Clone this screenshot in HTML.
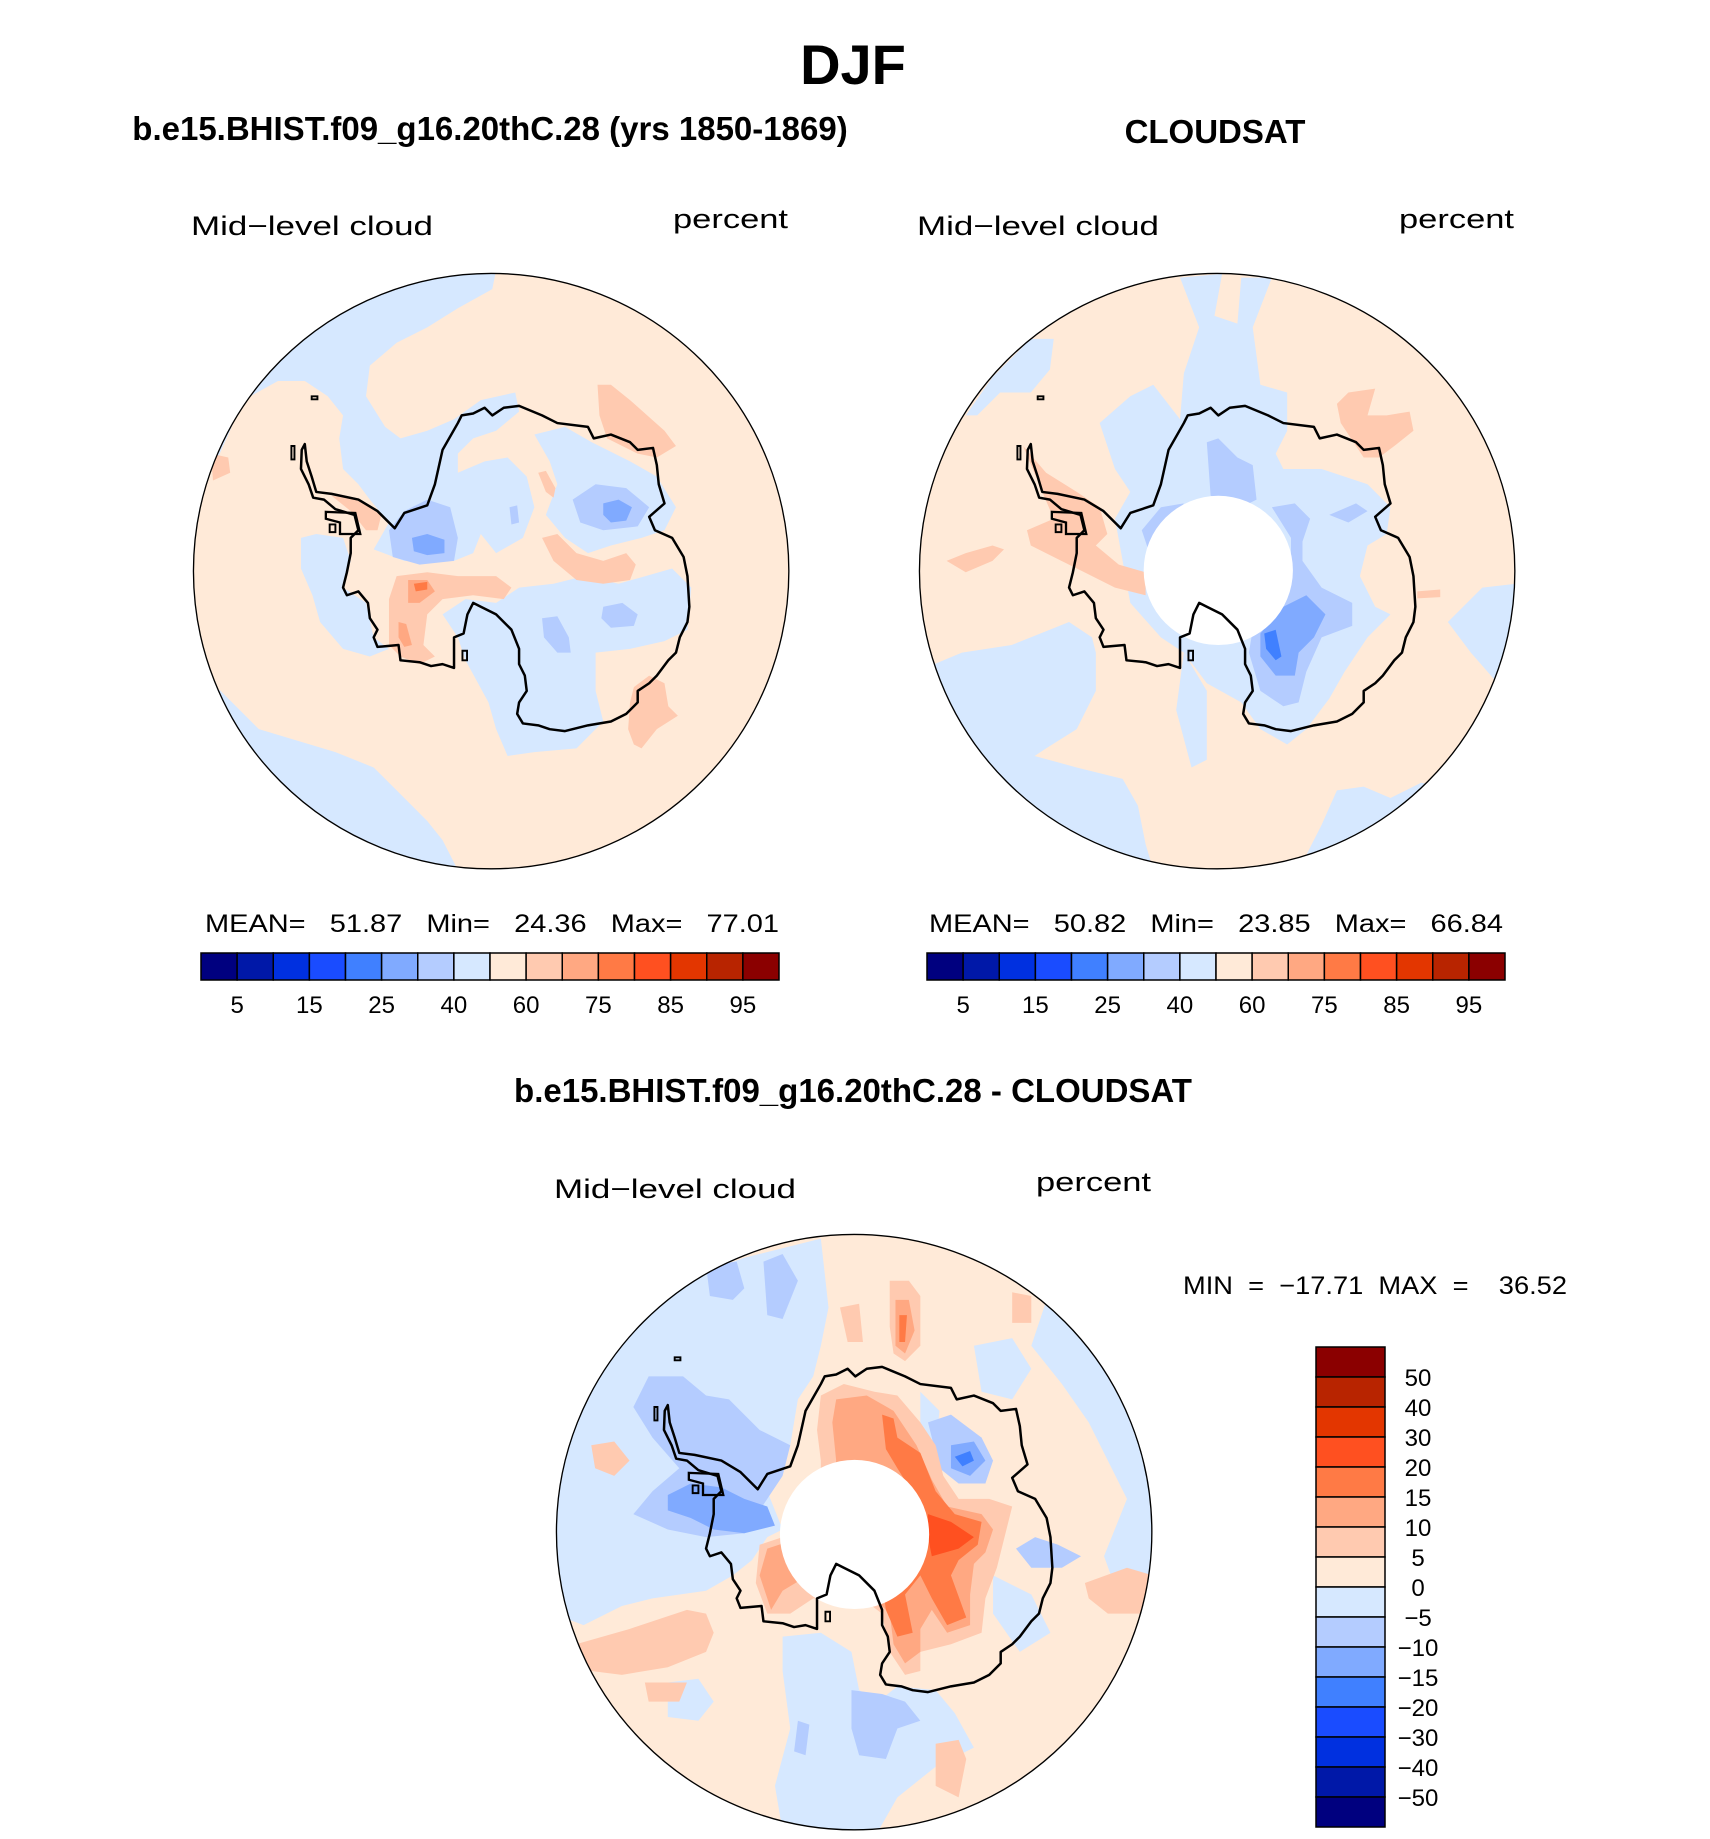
<!DOCTYPE html>
<html><head><meta charset="utf-8">
<style>
html,body{margin:0;padding:0;background:#fff;}
svg{display:block;}
.t{font-family:"Liberation Sans",sans-serif;}
</style></head>
<body>
<svg id="fig" width="1710" height="1839" viewBox="0 0 1710 1839" xmlns="http://www.w3.org/2000/svg">
<defs>
  <clipPath id="disc"><circle cx="787" cy="787" r="778"/></clipPath>
  <g id="coast">
    <path d="M300,455 L305,500 L318,540 L330,580 L370,585 L440,600 L490,630 L535,675 L560,635 L620,615 L640,560 L660,470 L700,400 L710,380 L740,375 L770,360 L790,380 L820,360 L860,355 L920,380 L960,400 L1040,410 L1055,440 L1100,430 L1150,450 L1170,470 L1210,465 L1220,510 L1225,560 L1240,610 L1200,645 L1215,680 L1260,700 L1290,750 L1300,800 L1305,880 L1300,920 L1280,960 L1270,1000 L1250,1020 L1220,1060 L1200,1080 L1170,1100 L1170,1130 L1140,1160 L1100,1180 L1040,1190 L980,1205 L940,1200 L910,1190 L870,1185 L855,1160 L860,1130 L880,1100 L875,1060 L860,1030 L860,990 L840,940 L800,900 L760,880 L740,870 L725,900 L715,950 L690,960 L690,1040 L660,1030 L630,1035 L600,1025 L550,1020 L545,980 L490,985 L480,960 L490,940 L470,910 L465,870 L440,840 L410,850 L400,830 L410,790 L420,740 L420,700 L440,680 L430,640 L380,625 L350,600 L322,595 L310,560 L290,520 L292,470 Z" fill="none" stroke="#000" stroke-width="6.5" stroke-linejoin="round"/>
    <path d="M355,632 L432,635 L445,690 L392,690 L392,660 L355,650 Z" fill="none" stroke="#000" stroke-width="6"/>
    <path d="M365,665 l15,0 l0,20 l-15,0z M265,460 l8,0 l0,35 l-8,0z M318,330 l15,0 l0,8 l-15,0z M712,995 l12,0 l0,25 l-12,0z" fill="none" stroke="#000" stroke-width="5"/>
  </g>
</defs>

<text class="t" x="853" y="84" font-size="56" font-weight="bold" text-anchor="middle">DJF</text>
<text class="t" x="490" y="140" font-size="33" font-weight="bold" text-anchor="middle">b.e15.BHIST.f09_g16.20thC.28 (yrs 1850-1869)</text>
<text class="t" x="1215" y="143" font-size="33" font-weight="bold" text-anchor="middle">CLOUDSAT</text>
<text class="t" x="853" y="1102" font-size="33" font-weight="bold" text-anchor="middle">b.e15.BHIST.f09_g16.20thC.28 - CLOUDSAT</text>

<text class="t" x="191" y="235" font-size="27" textLength="242" lengthAdjust="spacingAndGlyphs">Mid−level cloud</text>
<text class="t" x="673" y="228" font-size="27" textLength="115" lengthAdjust="spacingAndGlyphs">percent</text>
<text class="t" x="917" y="235" font-size="27" textLength="242" lengthAdjust="spacingAndGlyphs">Mid−level cloud</text>
<text class="t" x="1399" y="228" font-size="27" textLength="115" lengthAdjust="spacingAndGlyphs">percent</text>
<text class="t" x="554" y="1198" font-size="27" textLength="242" lengthAdjust="spacingAndGlyphs">Mid−level cloud</text>
<text class="t" x="1036" y="1191" font-size="27" textLength="115" lengthAdjust="spacingAndGlyphs">percent</text>

<!-- LEFT MAP -->
<g transform="translate(190,270) scale(0.38265)">
 <g clip-path="url(#disc)">
  <rect x="0" y="0" width="1568" height="1568" fill="#ffead8"/>
  <g fill="#d6e8ff">
   <polygon points="0,0 800,0 790,50 700,100 620,150 540,190 470,250 460,330 510,410 550,440 620,420 690,390 760,340 850,320 860,370 800,420 740,440 700,480 700,530 770,500 830,490 880,540 900,620 870,700 800,740 760,690 740,740 690,760 560,760 480,730 520,660 470,600 440,560 400,520 390,440 400,380 360,330 300,290 230,290 140,340 60,520 0,520"/>
   <polygon points="290,700 330,690 400,700 420,760 400,830 460,870 480,960 520,990 470,1010 400,990 340,920 320,850 290,780"/>
   <polygon points="900,430 980,410 1050,450 1150,500 1220,540 1270,620 1240,680 1180,700 1100,720 1040,740 980,700 930,640 960,560 940,500"/>
   <polygon points="860,830 950,820 1030,800 1120,820 1260,780 1310,830 1300,940 1240,970 1150,990 1060,1000 1060,1100 1080,1180 1010,1250 900,1260 830,1270 800,1200 780,1130 720,1020 700,960 660,900 720,860 800,870"/>
   <polygon points="0,1050 80,1100 180,1200 280,1230 380,1260 480,1300 560,1380 620,1440 660,1490 700,1568 0,1568"/>
  </g>
  <g fill="#b4ccff">
   <polygon points="520,680 560,630 620,600 680,620 700,700 690,760 600,770 530,750"/>
   <polygon points="1000,600 1060,560 1140,570 1200,620 1170,670 1080,680 1020,660"/>
   <polygon points="1080,880 1130,870 1170,900 1160,930 1100,935 1075,910"/>
   <polygon points="920,910 960,905 990,960 995,1000 960,1000 925,960"/>
   <polygon points="835,620 855,615 860,660 840,665"/>
  </g>
  <g fill="#80aaff">
   <polygon points="580,700 620,690 665,705 665,740 620,745 585,735"/>
   <polygon points="1080,610 1120,600 1155,620 1140,655 1100,660 1080,640"/>
  </g>
  <g fill="#ffcab0">
   <polygon points="370,590 440,600 500,640 490,680 460,680 420,630"/>
   <polygon points="540,800 620,790 700,800 800,800 840,830 820,860 740,850 660,860 620,900 610,980 640,1010 600,1030 550,1010 520,980 520,860"/>
   <polygon points="920,700 960,690 1010,740 1080,760 1140,740 1165,770 1150,810 1080,820 1010,810 950,760"/>
   <polygon points="1065,300 1100,300 1150,340 1240,420 1270,460 1220,490 1170,480 1090,440 1070,380"/>
   <polygon points="1160,1090 1200,1060 1240,1080 1250,1140 1275,1165 1220,1200 1180,1250 1160,1240 1145,1200 1150,1130"/>
   <polygon points="55,480 100,490 105,530 60,550"/>
   <polygon points="910,530 930,525 955,570 950,595 930,580"/>
  </g>
  <g fill="#ffa882">
   <polygon points="570,810 620,810 640,840 600,870 570,870"/>
   <polygon points="545,920 565,925 580,980 560,985 545,960"/>
  </g>
  <polygon fill="#ff7a45" points="585,820 620,815 620,835 590,840"/>
 </g>
 <use href="#coast"/>
 <circle cx="787" cy="787" r="778" fill="none" stroke="#000" stroke-width="3.5"/>
</g>

<!-- RIGHT MAP -->
<g transform="translate(916,270) scale(0.38265)">
 <g clip-path="url(#disc)">
  <rect x="0" y="0" width="1568" height="1568" fill="#ffead8"/>
  <g fill="#d6e8ff">
   <polygon points="560,330 620,300 690,390 700,270 740,150 690,20 800,10 780,120 840,140 850,20 930,20 880,150 900,300 970,320 970,420 940,480 960,520 1060,520 1180,560 1240,620 1230,690 1180,720 1160,800 1200,880 1240,900 1180,960 1120,1050 1080,1120 1020,1200 970,1240 900,1200 850,1130 760,1080 700,1000 640,960 560,870 540,760 520,650 560,580 520,520 500,460 480,400"/>
   <polygon points="0,1050 120,1000 250,980 400,920 460,960 470,1000 470,1100 420,1200 340,1250 310,1270 420,1300 540,1330 580,1400 600,1500 620,1568 0,1568"/>
   <polygon points="1100,1360 1170,1350 1240,1380 1320,1340 1380,1350 1568,1300 1568,1568 1000,1568 1060,1450"/>
   <polygon points="1390,920 1480,830 1568,820 1568,1100 1520,1080 1450,1000"/>
   <polygon points="130,380 200,280 300,180 360,180 350,260 300,320 220,320 160,380"/>
   <polygon points="700,1000 760,1100 760,1280 720,1300 680,1150"/>
  </g>
  <g fill="#b4ccff">
   <polygon points="760,450 790,440 840,490 880,510 890,600 850,620 770,590"/>
   <polygon points="930,620 990,610 1030,650 1010,710 1010,760 1060,830 1140,870 1140,930 1060,960 1020,1050 1000,1130 960,1140 900,1100 870,1000 880,940 960,860 980,800 980,700"/>
   <polygon points="1080,640 1150,610 1180,630 1130,660"/>
   <polygon points="590,680 640,620 700,610 650,700 610,740"/>
  </g>
  <polygon fill="#80aaff" points="900,950 960,880 1020,850 1070,900 1040,960 1000,1000 990,1060 940,1060 900,1010"/>
  <polygon fill="#4080ff" points="910,950 940,940 955,1010 940,1020 915,990"/>
  <g fill="#ffcab0">
   <polygon points="280,460 340,530 420,580 480,620 500,690 470,720 530,770 600,790 600,850 520,830 440,790 380,760 300,720 290,680 360,650 330,580"/>
   <polygon points="1100,350 1130,320 1200,310 1180,380 1230,380 1290,370 1300,420 1250,460 1210,490 1170,490 1130,430 1110,400"/>
   <polygon points="80,760 130,740 200,720 230,730 200,760 130,790"/>
   <polygon points="1310,840 1370,835 1370,855 1310,858"/>
  </g>
  <circle cx="790" cy="785" r="195" fill="#fff"/>
 </g>
 <use href="#coast"/>
 <circle cx="787" cy="787" r="778" fill="none" stroke="#000" stroke-width="3.5"/>
</g>

<!-- DIFF MAP -->
<g transform="translate(553,1231) scale(0.38265)">
 <g clip-path="url(#disc)">
  <rect x="0" y="0" width="1568" height="1568" fill="#ffead8"/>
  <g fill="#d6e8ff">
   <polygon points="0,300 200,250 300,140 500,70 700,20 720,200 700,300 680,380 640,440 620,560 600,620 560,680 600,780 560,800 520,860 470,900 400,940 260,960 180,980 80,1030 0,1000"/>
   <polygon points="1300,150 1450,300 1568,500 1568,1000 1480,960 1440,850 1500,700 1450,600 1400,500 1330,400 1250,300"/>
   <polygon points="1100,300 1200,280 1250,360 1200,440 1120,420"/>
   <polygon points="1150,900 1250,950 1300,1050 1220,1100 1150,1000"/>
   <polygon points="600,1060 700,1050 780,1100 800,1200 850,1230 900,1190 1000,1200 1050,1260 1100,1350 1000,1400 900,1480 850,1568 600,1568 580,1450 620,1300 600,1150"/>
   <polygon points="300,1180 380,1170 420,1230 380,1280 300,1270"/>
   <polygon points="960,420 1010,470 1000,560 960,520"/>
  </g>
  <g fill="#b4ccff">
   <polygon points="210,460 250,380 340,380 400,430 460,440 540,520 620,560 600,640 560,700 500,790 400,800 300,780 210,740 260,680 330,620 260,540"/>
   <polygon points="400,90 480,80 500,150 470,180 410,170"/>
   <polygon points="550,80 600,60 640,130 600,230 560,220"/>
   <polygon points="980,500 1040,480 1120,540 1150,600 1130,660 1060,660 1010,620"/>
   <polygon points="1210,830 1260,800 1320,820 1380,850 1330,880 1250,880"/>
   <polygon points="780,1200 860,1210 920,1230 960,1280 900,1300 870,1380 800,1370 780,1300"/>
   <polygon points="640,1280 670,1290 660,1370 630,1360"/>
  </g>
  <g fill="#80aaff">
   <polygon points="300,690 360,660 440,670 500,700 560,720 580,770 500,790 420,780 360,750 300,730"/>
   <polygon points="1040,560 1100,550 1130,600 1090,640 1040,620"/>
  </g>
  <polygon fill="#4080ff" points="1050,590 1090,575 1100,600 1070,615"/>
  <g fill="#ffcab0">
   <polygon points="700,430 760,400 840,420 900,430 960,500 1000,560 1020,640 1060,700 1140,700 1200,720 1180,800 1160,880 1130,960 1120,1050 1040,1080 960,1100 960,1150 920,1160 880,1100 860,1000 820,970 760,960 680,960 620,1000 560,1000 530,920 540,820 600,800 650,760 700,700 700,600 690,520"/>
   <polygon points="880,130 930,130 960,170 960,300 920,340 890,320 880,250"/>
   <polygon points="60,1080 200,1040 350,990 400,1000 420,1050 400,1100 300,1140 180,1160 100,1150"/>
   <polygon points="240,1180 350,1180 330,1230 250,1230"/>
   <polygon points="1390,920 1500,880 1568,900 1560,1000 1450,1000 1400,960"/>
   <polygon points="1000,1340 1060,1330 1080,1380 1060,1480 1000,1450"/>
   <polygon points="100,560 160,550 200,600 160,640 110,620"/>
   <polygon points="1200,160 1250,170 1250,240 1200,240"/>
   <polygon points="750,200 800,190 810,290 770,290"/>
  </g>
  <g fill="#ffa882">
   <polygon points="740,440 820,430 890,470 950,560 990,650 1030,720 1120,740 1150,780 1130,840 1100,870 1090,950 1090,1030 1030,1050 990,990 960,1040 960,1100 920,1130 890,1080 880,1000 860,980 800,900 700,880 600,940 570,990 540,900 560,830 620,810 680,760 720,700 740,600 730,500"/>
   <polygon points="895,180 930,180 945,260 920,320 895,300"/>
  </g>
  <g fill="#ff7a45">
   <polygon points="860,480 890,490 900,540 960,580 1000,680 1050,740 1120,760 1110,820 1060,860 1040,900 1080,1010 1030,1030 990,960 960,900 920,950 940,1050 900,1060 870,990 860,920 900,880 950,800 950,700 900,620 870,570"/>
   <polygon points="905,220 925,220 920,290 905,290"/>
  </g>
  <polygon fill="#ff5020" points="980,740 1040,760 1100,800 1060,830 990,850 980,800"/>
  <circle cx="788" cy="793" r="195" fill="#fff"/>
 </g>
 <use href="#coast"/>
 <circle cx="787" cy="787" r="778" fill="none" stroke="#000" stroke-width="3.5"/>
</g>

<text class="t" x="205" y="932" font-size="25" textLength="574" lengthAdjust="spacingAndGlyphs" xml:space="preserve">MEAN=   51.87   Min=   24.36   Max=   77.01</text>
<text class="t" x="929" y="932" font-size="25" textLength="574" lengthAdjust="spacingAndGlyphs" xml:space="preserve">MEAN=   50.82   Min=   23.85   Max=   66.84</text>
<text class="t" x="1183" y="1294" font-size="25" textLength="384" lengthAdjust="spacingAndGlyphs" xml:space="preserve">MIN  =  −17.71  MAX  =    36.52</text>

<g id="cbars"></g>
</svg>
<script>
const absColors = ["#00007f","#0018a8","#0030e0","#1a4cff","#4080ff","#80aaff","#b4ccff","#d6e8ff","#ffead8","#ffcab0","#ffa882","#ff7a45","#ff5020","#e33600","#b82400","#8b0000"];
const absLevels = [5,10,15,20,25,30,40,50,60,70,75,80,85,90,95];
const absLabelEvery = 2;
const diffLevels = [-50,-40,-30,-20,-15,-10,-5,0,5,10,15,20,30,40,50];
const diffColors = absColors;

const NS = "http://www.w3.org/2000/svg";
const root = document.getElementById("cbars");
function mk(tag, attrs){ const e=document.createElementNS(NS,tag); for(const k in attrs) e.setAttribute(k,attrs[k]); root.appendChild(e); return e; }

function hbar(x0, x1, y0, y1, prefix){
  const n = absColors.length, w = (x1-x0)/n;
  absColors.forEach((c,i)=>{
    const r = mk("rect",{x:x0+i*w,y:y0,width:w,height:y1-y0,fill:c,stroke:"#000","stroke-width":1.5});
    
    
  });
  absLevels.forEach((v,i)=>{
    if(i % absLabelEvery !== 0) return;
    const t = mk("text",{x:x0+(i+1)*w,y:y1+33,"font-size":24,"text-anchor":"middle","font-family":"Liberation Sans, sans-serif"});
    t.textContent = String(v);
    
    
  });
}
hbar(201, 779, 953, 980, "model");
hbar(927, 1505, 953, 980, "cloudsat");

(function(){
  const x0=1316, x1=1385, y0=1347, y1=1827;
  const n = diffColors.length, h=(y1-y0)/n;
  for(let i=0;i<n;i++){
    const r = mk("rect",{x:x0,y:y0+i*h,width:x1-x0,height:h,fill:diffColors[n-1-i],stroke:"#000","stroke-width":1.5});
    
    
  }
  const m = diffLevels.length;
  for(let j=0;j<m;j++){
    const v = diffLevels[m-1-j];
    const t = mk("text",{x:1418,y:y0+(j+1)*h+9,"font-size":24,"text-anchor":"middle","font-family":"Liberation Sans, sans-serif"});
    t.textContent = v<0 ? "\u2212"+Math.abs(v) : String(v);
    
    
  }
})();
</script>
</body></html>
